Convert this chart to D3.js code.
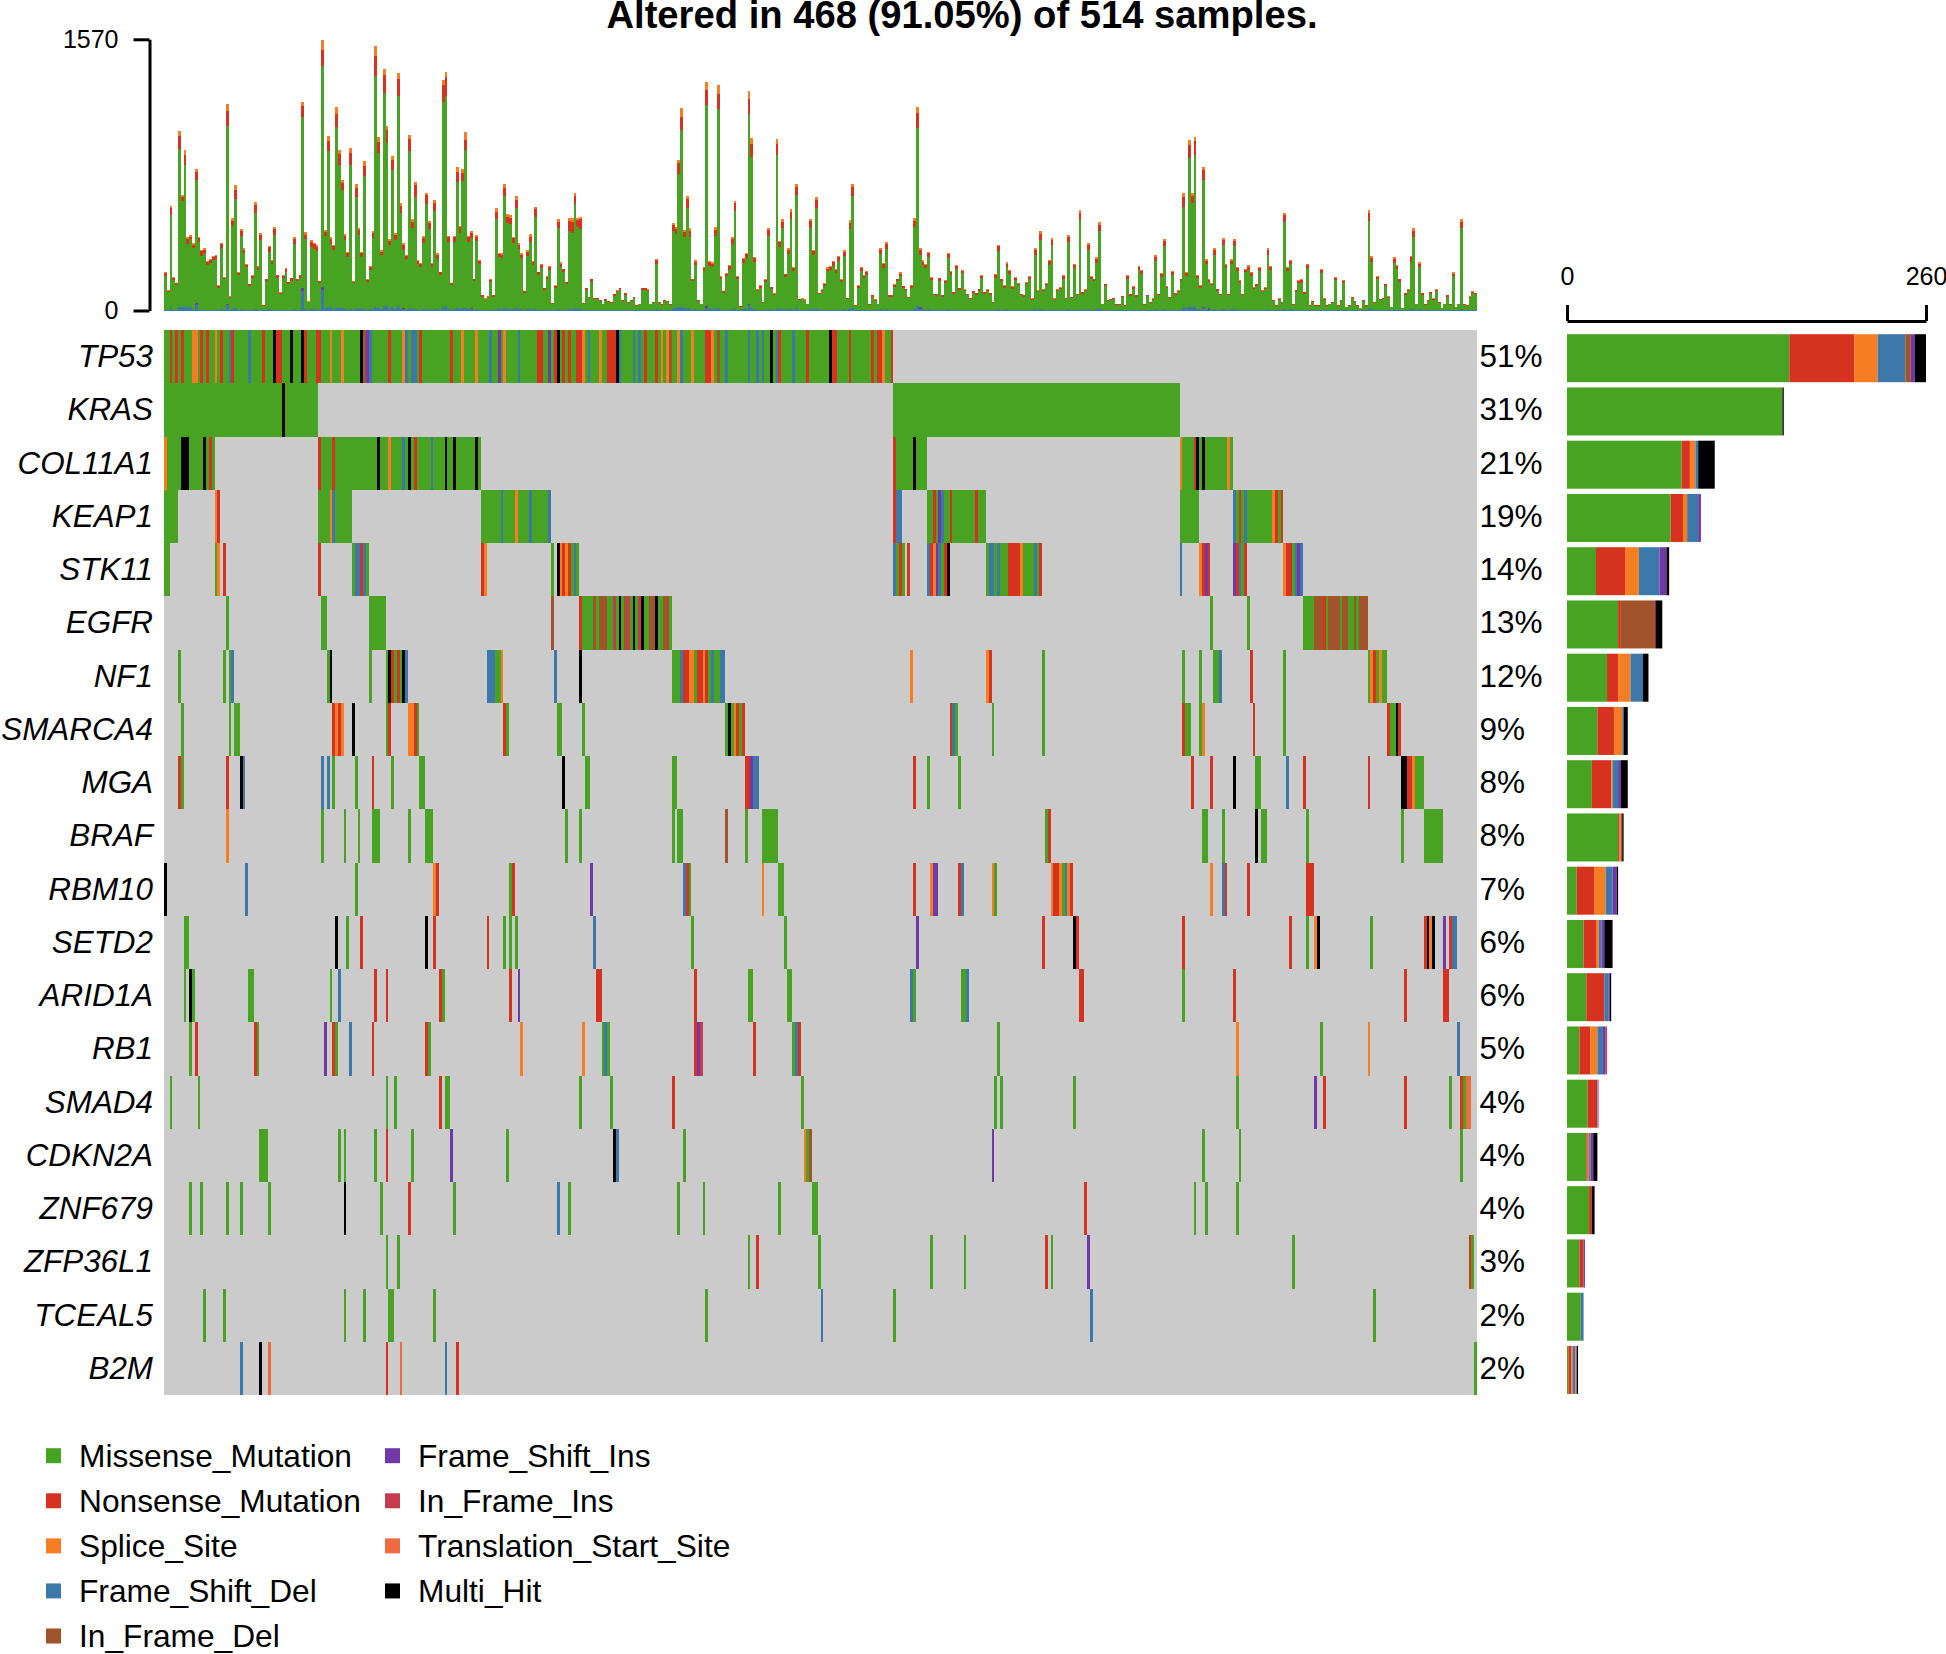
<!DOCTYPE html>
<html>
<head>
<meta charset="utf-8">
<script src="https://cdn.jsdelivr.net/npm/d3@7"></script>
<style>
body { margin: 0; background: #fff; }
text { font-family: "Liberation Sans", Arial, sans-serif; fill: #000; }
.axis path, .axis line { stroke: #000; stroke-width: 3px; fill: none; }
.axis text { font-size: 25px; }
</style>
</head>
<body>
<script>
// mutation classes and colours
const mutCodes = ['M', 'N', 'S', 'D', 'B', 'I', 'P', 'T', 'H'];
const mutNames = ['Missense_Mutation', 'Nonsense_Mutation', 'Splice_Site', 'Frame_Shift_Del', 'In_Frame_Del',
    'Frame_Shift_Ins', 'In_Frame_Ins', 'Translation_Start_Site', 'Multi_Hit'];
const mutColors = ['#48a322', '#d53320', '#f67d22', '#3c78aa', '#a1542c', '#7138a8', '#c63c4f', '#ee6b42', '#000000'];

const genes = ['TP53', 'KRAS', 'COL11A1', 'KEAP1', 'STK11', 'EGFR', 'NF1', 'SMARCA4', 'MGA', 'BRAF',
    'RBM10', 'SETD2', 'ARID1A', 'RB1', 'SMAD4', 'CDKN2A', 'ZNF679', 'ZFP36L1', 'TCEAL5', 'B2M'];
const genePct = ['51%', '31%', '21%', '19%', '14%', '13%', '12%', '9%', '8%', '8%',
    '7%', '6%', '6%', '5%', '4%', '4%', '4%', '3%', '2%', '2%'];

// samples drawn (only the altered ones)
const nSamples = 468;

// counts per gene for the side bar, one array per mutation class
const sideM = [161, 156, 83, 75, 21, 37, 29, 22, 18, 37, 7, 12, 14, 9, 15, 14, 16, 9, 10, 1];
const sideN = [47, 0, 6, 9, 21, 2, 8, 12, 14, 1, 13, 9, 13, 8, 6, 1, 2, 3, 0, 2];
const sideS = [17, 0, 4, 3, 10, 0, 9, 6, 1, 1, 8, 2, 0, 5, 0, 1, 0, 0, 0, 1];
const sideD = [20, 0, 2, 8, 15, 0, 9, 1, 4, 0, 5, 2, 3, 4, 0, 1, 0, 0, 2, 2];
const sideB = [4, 0, 0, 0, 0, 24, 0, 0, 0, 1, 0, 0, 0, 0, 0, 0, 0, 0, 0, 0];
const sideI = [3, 0, 0, 2, 5, 0, 0, 0, 2, 0, 3, 2, 1, 2, 1, 2, 0, 1, 0, 0];
const sideP = [0, 0, 0, 0, 0, 1, 0, 0, 0, 0, 0, 0, 0, 1, 0, 0, 0, 0, 0, 0];
const sideT = [0, 0, 0, 0, 0, 0, 0, 0, 0, 0, 0, 0, 0, 0, 1, 0, 0, 0, 0, 1];
const sideH = [8, 1, 12, 0, 2, 5, 4, 3, 5, 1, 1, 6, 1, 0, 0, 3, 2, 0, 0, 1];

// mutation burden per sample
const tmbTotal = [224,118,606,195,160,1040,668,929,423,436,388,822,427,350,360,286,300,315,
320,147,392,195,1193,83,533,724,222,473,359,272,156,205,631,257,446,31,185,
373,292,481,208,106,205,247,166,191,423,185,208,1208,452,54,407,392,378,
172,1566,465,1010,423,382,1180,929,755,440,340,938,170,730,477,340,863,180,
257,459,1531,1002,349,1396,1068,413,894,446,1373,620,388,324,1017,527,745,295,276,
430,683,519,276,639,330,224,1334,1378,434,162,432,828,492,817,1031,432,459,
185,438,292,89,70,83,180,89,591,334,330,730,556,552,427,662,388,330,
114,349,440,288,598,224,272,133,199,259,44,145,527,278,243,166,533,533,
681,537,542,44,133,79,185,73,73,60,40,66,54,50,95,118,133,60,
102,50,60,79,31,40,133,133,122,40,50,301,50,37,62,55,37,508,
485,870,1170,465,664,475,185,291,60,40,253,1322,288,278,481,1303,199,114,218,
262,423,635,200,25,305,334,1270,996,311,122,145,50,180,479,137,100,990,
403,527,214,359,585,253,735,66,70,64,40,531,353,658,102,122,160,249,259,
288,241,315,180,349,75,523,735,31,147,253,205,230,37,89,64,40,363,
276,398,89,89,151,185,220,143,125,79,147,533,1176,359,291,272,340,195,
98,98,191,89,176,334,230,108,262,133,237,122,98,73,114,102,127,208,
108,122,102,50,210,382,185,147,278,233,140,195,160,98,89,166,199,70,
359,118,459,122,160,295,421,70,122,137,205,75,436,79,268,98,581,108,
122,388,199,185,307,510,40,156,60,66,73,37,37,85,31,205,95,141,
89,259,234,37,91,50,70,320,98,218,413,141,79,230,102,118,185,678,
224,986,681,1006,205,147,832,297,180,160,359,127,98,421,272,98,297,
413,253,176,98,243,262,224,137,156,253,118,137,359,259,60,31,70,50,566,
253,295,37,120,176,180,108,272,31,56,30,30,243,70,31,40,50,195,31,
60,176,21,31,79,56,31,12,60,30,581,315,50,200,66,75,156,83,
21,307,266,185,15,102,122,317,475,40,278,102,37,60,108,70,122,50,
15,40,91,37,220,21,40,527,37,31,83,112,104];

const tmbNonsense = [18,8,38,14,10,75,22,62,30,16,20,48,22,24,22,18,20,18,
16,10,24,10,90,6,32,52,14,30,20,16,10,14,44,16,28,3,10,
26,18,34,14,8,14,16,12,14,30,12,14,62,26,4,30,28,26,
12,90,26,58,28,22,80,60,42,26,22,70,10,52,32,22,58,10,
16,30,118,64,22,105,74,28,60,30,100,42,28,20,70,38,66,20,18,
28,48,36,18,48,22,16,95,110,28,10,30,60,34,50,60,30,30,
12,28,18,6,4,6,12,6,42,20,20,50,40,40,30,48,26,22,
8,24,30,20,44,14,18,10,14,16,3,10,38,18,16,12,58,66,
50,40,55,3,10,6,14,5,5,5,3,5,4,4,8,8,10,5,
8,4,5,6,3,3,10,10,8,3,4,24,4,3,5,4,3,34,
28,60,78,30,50,36,12,20,5,3,18,90,20,18,36,88,14,8,16,
20,30,44,14,2,22,22,88,72,22,8,10,4,12,34,10,6,66,
28,38,14,24,40,16,48,4,4,4,3,40,26,46,7,8,12,16,18,
20,16,22,12,24,5,36,52,2,10,18,14,16,3,6,5,3,26,
20,30,6,6,10,12,16,10,8,6,10,36,86,26,20,18,24,14,
7,7,14,6,12,24,16,7,18,9,16,8,7,5,8,7,9,14,
8,8,7,4,14,28,12,10,20,16,10,14,11,7,6,11,14,5,
26,8,34,8,11,22,30,5,8,10,14,5,30,6,18,7,42,8,
8,28,14,12,22,36,3,11,4,5,5,3,3,6,2,14,7,10,
6,18,16,3,7,4,5,24,7,16,30,10,6,16,7,8,12,58,
16,75,40,78,14,10,56,20,12,11,26,9,7,30,18,7,20,
30,18,12,7,17,18,16,9,11,18,8,9,26,18,4,2,5,4,40,
18,20,3,8,12,14,8,20,2,4,2,2,18,5,2,3,4,14,2,
4,12,2,2,6,4,2,1,4,2,44,26,4,14,5,5,11,6,
2,22,18,13,1,7,9,26,38,3,20,7,3,4,8,5,9,4,
1,3,7,3,16,2,3,38,3,2,6,9,8];

const tmbSplice = [8,4,14,4,3,30,12,26,10,8,6,20,8,8,8,6,6,6,
6,4,8,4,36,2,12,24,4,10,6,6,3,4,20,5,10,1,4,
8,6,8,5,3,4,6,3,4,8,3,5,26,14,2,8,8,8,
3,58,10,28,10,8,40,24,18,8,8,24,3,20,10,8,24,3,
6,12,58,24,8,32,24,8,22,8,32,14,8,6,22,12,20,6,6,
10,16,12,6,16,8,4,30,26,8,3,8,24,10,20,44,8,12,
4,10,6,2,2,2,4,2,18,6,6,18,12,14,8,20,8,6,
2,8,12,6,12,4,6,3,4,6,1,3,14,6,5,3,16,20,
16,12,14,1,3,2,4,2,2,1,1,2,1,1,2,3,3,1,
2,1,1,2,1,1,3,3,3,1,1,8,1,1,1,1,1,12,
14,18,48,8,18,12,5,8,1,1,6,44,8,6,14,50,4,2,5,
6,10,14,5,1,6,8,44,34,8,3,3,1,4,14,3,2,26,
8,12,5,8,14,6,18,2,2,1,1,14,8,18,2,3,4,6,6,
8,6,8,5,10,2,14,20,1,4,8,5,6,1,2,2,1,10,
8,12,2,2,4,5,6,4,3,2,4,14,34,10,8,6,8,4,
3,3,5,2,4,8,6,3,6,3,6,3,3,2,3,3,3,6,
3,3,3,1,5,10,4,4,8,6,3,5,4,3,2,4,5,2,
9,3,14,3,4,8,10,2,3,4,6,2,10,2,6,3,16,3,
3,10,5,4,8,16,1,4,2,2,2,1,1,2,1,6,2,4,
2,6,6,1,2,1,2,8,2,6,12,3,2,6,3,3,4,20,
6,30,16,26,5,4,20,8,4,4,10,3,2,12,7,3,8,
10,6,4,2,6,8,6,4,4,6,3,4,10,7,2,1,2,1,16,
6,8,1,3,4,4,3,8,1,1,1,1,6,2,1,1,1,5,1,
1,5,1,1,2,1,1,1,2,1,16,10,1,5,2,2,4,2,
1,8,6,5,1,3,3,8,12,1,8,3,1,2,3,2,3,1,
1,1,3,1,6,1,1,14,1,1,2,3,3];

const tmbFrameDel = [3,3,18,2,2,22,20,22,20,18,3,30,4,3,2,2,2,2,
4,2,6,2,30,3,8,14,3,8,3,2,2,3,6,3,4,1,2,
6,3,4,3,2,4,5,2,3,6,2,5,115,6,2,8,6,5,
4,118,12,22,18,8,14,16,12,6,4,10,3,12,8,6,8,3,
8,6,18,14,6,26,24,8,22,6,24,10,6,5,16,8,10,4,4,
8,10,8,4,10,6,3,20,28,8,3,6,14,10,14,16,8,8,
4,8,4,2,1,2,3,1,10,6,4,12,10,10,8,12,6,6,
2,6,8,4,8,3,4,2,3,4,1,2,10,5,4,3,8,10,
12,8,8,1,2,1,3,1,1,1,1,1,1,1,2,2,2,1,
2,1,1,1,1,1,2,2,2,1,1,6,1,1,1,1,1,14,
16,18,20,14,12,10,4,6,1,1,4,16,6,6,8,16,4,2,4,
5,8,10,5,1,6,6,30,16,6,2,3,1,3,8,3,2,16,
8,8,4,6,10,5,12,1,2,1,1,10,6,10,2,2,3,5,5,
5,4,5,3,6,2,8,16,1,3,5,3,4,1,2,1,1,6,
5,6,2,2,3,3,4,2,2,2,3,8,24,10,6,5,6,3,
2,2,3,2,3,6,4,2,5,2,4,3,2,2,2,2,2,4,
2,2,2,1,3,8,4,3,6,4,2,4,3,2,2,3,4,2,
6,2,8,2,3,5,8,2,3,3,4,2,8,2,5,2,10,2,
3,8,4,3,6,14,1,3,1,2,2,1,1,2,1,4,2,3,
2,5,4,1,2,1,2,6,2,4,8,3,2,4,2,2,4,22,
16,22,18,26,6,3,14,6,4,3,8,3,2,8,5,2,6,
8,5,4,2,5,5,4,3,3,5,2,3,8,5,2,1,2,1,10,
5,6,1,2,4,4,2,5,1,2,1,1,5,2,1,1,2,4,1,
2,4,1,1,2,2,1,1,2,1,16,8,2,4,2,2,3,2,
1,6,5,4,1,2,3,8,10,1,6,2,1,2,3,2,3,2,
1,1,2,1,5,1,1,10,1,1,2,3,3];

// the few samples where purple shows above the blue, [sample, count]
const tmbFrameIns = [[49, 18], [56, 20], [11, 12], [22, 8], [85, 8], [109, 6], [193, 8], [208, 10], [269, 10], [370, 8], [372, 10]];

// altered cells, [first sample, class, run length]. later entries overwrite earlier ones
const cellsTP53 = [[0,'M',260],[2,'N'],[4,'N'],[6,'N'],[10,'S',2],[13,'N'],[15,'N'],[18,'S'],[20,'N'],[23,'D'],[24,'N'],[30,'D'],[35,'N'],[39,'H'],[40,'N',2],[45,'H'],[49,'H'],[50,'N'],[54,'N',2],[59,'S'],[63,'S'],[70,'H'],[71,'B'],[72,'I'],[73,'D'],[80,'N'],[85,'S'],[86,'D'],[88,'D',2],[91,'N'],[102,'N'],[106,'S'],[111,'S'],[116,'D'],[119,'I'],[121,'S'],[126,'D'],[133,'N',2],[137,'I'],[139,'N'],[140,'H'],[142,'N'],[144,'N'],[147,'N',2],[149,'S'],[151,'D'],[155,'S'],[158,'N',3],[161,'H'],[162,'D'],[167,'D'],[169,'D'],[171,'N'],[175,'N'],[177,'S'],[179,'S'],[180,'B'],[183,'S'],[184,'D'],[188,'S'],[193,'N',2],[195,'S'],[197,'B'],[200,'D'],[208,'D'],[211,'D'],[213,'D'],[216,'H'],[218,'D'],[219,'N'],[224,'D'],[229,'N'],[237,'H'],[238,'N',2],[244,'N'],[252,'N'],[254,'N',2],[256,'S'],[259,'N']];
const cellsKRAS = [[0,'M',55],[42,'H'],[260,'M',102]];
const cellsCOL11A1 = [[0,'M',18],[0,'S'],[6,'H',3],[14,'H'],[16,'N'],[55,'M',58],[55,'N'],[60,'N'],[76,'H'],[80,'S'],[85,'D'],[87,'H'],[89,'N'],[95,'D'],[100,'H'],[103,'H'],[111,'H'],[260,'M',12],[260,'N'],[267,'H'],[362,'M',19],[362,'S'],[367,'N'],[368,'H'],[370,'H'],[379,'S']];
const cellsKEAP1 = [[0,'M',5],[18,'S'],[19,'N'],[55,'M',12],[59,'S'],[60,'D'],[113,'M',25],[120,'D'],[125,'S'],[130,'D'],[137,'D'],[260,'N'],[261,'D',2],[272,'M',21],[274,'N'],[276,'I'],[277,'D'],[280,'N'],[289,'N'],[362,'M',7],[381,'M',18],[381,'D'],[383,'N'],[385,'D'],[395,'S'],[396,'N'],[398,'N']];
const cellsSTK11 = [[0,'M',2],[18,'M'],[19,'S'],[21,'N'],[55,'N'],[67,'M'],[68,'D',2],[70,'N'],[71,'D'],[72,'M'],[113,'N'],[114,'S'],[138,'M'],[140,'H'],[141,'S'],[142,'N'],[143,'S'],[144,'N'],[145,'M'],[146,'D'],[147,'M'],[260,'D'],[261,'M'],[262,'N'],[263,'M'],[265,'N'],[272,'D'],[273,'N'],[274,'S'],[275,'I'],[276,'D'],[277,'M'],[278,'N'],[279,'H'],[293,'M',20],[294,'D',2],[297,'D'],[301,'N',3],[304,'N'],[305,'S'],[310,'D'],[312,'N'],[362,'D'],[369,'S'],[370,'N'],[371,'I'],[372,'N'],[381,'I'],[382,'N'],[383,'D'],[384,'M'],[385,'N'],[399,'S'],[400,'N',2],[402,'M'],[403,'D'],[404,'I'],[405,'D']];
const cellsEGFR = [[22,'M'],[56,'M',2],[73,'M',6],[138,'B'],[148,'M',33],[148,'N'],[153,'B'],[155,'B',3],[160,'P'],[162,'H'],[164,'B'],[165,'P'],[167,'H'],[169,'P'],[170,'H'],[173,'B',2],[175,'H'],[178,'B',2],[373,'M'],[386,'M'],[406,'M',23],[410,'B',3],[413,'N'],[415,'B',4],[420,'B',2],[424,'B'],[426,'B',3]];
const cellsNF1 = [[5,'M'],[21,'M'],[23,'M'],[24,'D'],[58,'M'],[59,'H'],[73,'M'],[79,'M'],[80,'H'],[81,'N'],[82,'M'],[83,'N'],[84,'M'],[85,'H'],[86,'D'],[115,'D',3],[118,'M',2],[120,'S'],[139,'D'],[148,'H'],[181,'M',19],[184,'D'],[185,'N',2],[187,'S',2],[190,'N',2],[192,'S'],[193,'N'],[195,'D'],[198,'D',2],[266,'S'],[293,'S'],[294,'N'],[313,'M'],[363,'M'],[369,'M'],[374,'M',2],[376,'D'],[387,'N'],[399,'M'],[429,'M'],[430,'S'],[431,'N'],[432,'M'],[433,'S'],[434,'M',2]];
const cellsSMARCA4 = [[6,'M'],[23,'M'],[25,'M',2],[60,'N'],[61,'S'],[62,'N'],[63,'S'],[67,'H'],[79,'M'],[80,'N'],[87,'S',2],[89,'N'],[90,'M'],[121,'N'],[122,'M'],[140,'M',2],[149,'M'],[200,'M'],[201,'H'],[202,'M'],[203,'S'],[204,'N'],[205,'M'],[206,'N'],[280,'N'],[281,'D'],[282,'M'],[295,'M'],[313,'M'],[363,'N'],[364,'M',2],[369,'M'],[370,'S'],[388,'N'],[399,'M'],[436,'N'],[437,'M',2],[439,'H'],[440,'N']];
const cellsMGA = [[5,'N'],[6,'M'],[22,'N'],[27,'H'],[28,'D'],[56,'D'],[58,'D'],[60,'M'],[68,'M'],[74,'N'],[81,'M'],[91,'M',2],[142,'H'],[150,'M',2],[181,'M',2],[207,'N',2],[209,'I'],[210,'D',2],[267,'N'],[272,'M'],[283,'M'],[366,'N'],[373,'N'],[381,'H'],[389,'M',2],[400,'D'],[406,'N'],[429,'N'],[441,'H',2],[443,'N',2],[445,'S'],[446,'M',3]];
const cellsBRAF = [[22,'S'],[56,'M'],[64,'M'],[69,'M'],[74,'M',3],[87,'M'],[93,'M',3],[143,'M'],[148,'M'],[181,'M'],[183,'M',2],[200,'B'],[207,'M'],[213,'M',6],[314,'M'],[315,'N'],[370,'M',2],[377,'M'],[389,'H'],[391,'M',2],[407,'M'],[441,'M'],[449,'M',7]];
const cellsRBM10 = [[0,'H'],[29,'D'],[68,'M'],[96,'S'],[97,'N'],[123,'M'],[124,'N'],[152,'I'],[185,'D'],[186,'N'],[187,'M'],[213,'S'],[219,'M',2],[267,'N'],[273,'S'],[274,'I',2],[283,'N'],[284,'D'],[295,'S'],[296,'M'],[316,'S'],[317,'N',2],[319,'S'],[320,'M'],[321,'D'],[322,'S'],[323,'N'],[373,'S'],[377,'D'],[378,'N'],[386,'N'],[407,'N',3]];
const cellsSETD2 = [[7,'M',2],[61,'H'],[65,'M'],[70,'N'],[93,'H'],[96,'N'],[115,'N'],[121,'M'],[123,'M'],[125,'M'],[153,'D'],[188,'M'],[221,'M'],[268,'I'],[313,'N'],[324,'H'],[325,'N'],[363,'N'],[401,'N'],[407,'M'],[410,'S'],[411,'H'],[430,'M'],[449,'N'],[450,'H'],[451,'S'],[452,'H'],[456,'I'],[458,'N'],[459,'D',2]];
const cellsARID1A = [[7,'M'],[9,'H'],[10,'M'],[30,'M',2],[59,'M'],[62,'D'],[75,'N'],[79,'N'],[98,'N'],[99,'M'],[123,'N'],[126,'I'],[154,'N',2],[189,'N'],[208,'M',2],[222,'M',2],[266,'D'],[267,'M'],[284,'M',2],[286,'D'],[326,'N',2],[363,'M'],[381,'N'],[442,'N'],[456,'N',2]];
const cellsRB1 = [[9,'M'],[11,'N'],[32,'N'],[33,'M'],[57,'I'],[60,'N'],[61,'M'],[66,'D'],[74,'N'],[93,'N'],[94,'M'],[127,'S'],[149,'S'],[156,'M'],[157,'D'],[158,'M'],[189,'N'],[190,'I'],[191,'P'],[210,'N'],[224,'M'],[225,'D'],[226,'N'],[297,'M'],[382,'S'],[412,'M'],[429,'S'],[461,'D']];
const cellsSMAD4 = [[2,'M'],[12,'M'],[79,'M'],[82,'M'],[98,'N'],[100,'M',2],[148,'M'],[159,'M'],[181,'N'],[227,'M'],[296,'M'],[298,'M'],[324,'M'],[382,'M'],[410,'I'],[413,'N'],[442,'N'],[458,'M'],[462,'N'],[463,'M'],[464,'T',2]];
const cellsCDKN2A = [[34,'M',3],[62,'M'],[64,'M'],[75,'M'],[79,'N'],[88,'M'],[102,'I'],[122,'M'],[160,'H'],[161,'D'],[185,'M'],[228,'S'],[229,'M'],[230,'B'],[295,'I'],[370,'M'],[383,'M'],[462,'M']];
const cellsZNF679 = [[9,'M'],[13,'M'],[22,'M'],[27,'M'],[37,'M'],[64,'H'],[77,'M'],[87,'N'],[103,'M'],[140,'D'],[144,'M'],[183,'M'],[192,'M'],[219,'M'],[231,'M',2],[328,'N'],[367,'M'],[371,'M'],[382,'M']];
const cellsZFP36L1 = [[79,'M'],[83,'M'],[208,'M'],[211,'N'],[233,'M'],[273,'M'],[285,'M'],[314,'N'],[316,'M'],[329,'I'],[402,'M'],[465,'N'],[466,'M']];
const cellsTCEAL5 = [[14,'M'],[21,'M'],[64,'M'],[71,'M'],[80,'M',2],[96,'M'],[193,'M'],[234,'D'],[260,'M'],[330,'D'],[431,'M']];
const cellsB2M = [[27,'D'],[34,'H'],[37,'T'],[79,'N'],[84,'T'],[100,'D'],[104,'N'],[467,'M']];

const geneCells = [cellsTP53, cellsKRAS, cellsCOL11A1, cellsKEAP1, cellsSTK11, cellsEGFR, cellsNF1, cellsSMARCA4, cellsMGA, cellsBRAF,
    cellsRBM10, cellsSETD2, cellsARID1A, cellsRB1, cellsSMAD4, cellsCDKN2A, cellsZNF679, cellsZFP36L1, cellsTCEAL5, cellsB2M];

const w = 1946;
const h = 1654;

const svg = d3.select('body')
    .append('svg')
    .attr('width', w)
    .attr('height', h);

const color = d3.scaleOrdinal().domain(mutCodes).range(mutColors);

// shared scales
const xSample = d3.scaleBand().domain(d3.range(nSamples)).range([164, 1477]);
const yGene = d3.scaleBand().domain(genes).range([330, 1395]);

// title
svg.append('text')
    .attr('x', 962)
    .attr('y', 28)
    .attr('text-anchor', 'middle')
    .style('font-size', '38.2px')
    .style('font-weight', 'bold')
    .text('Altered in 468 (91.05%) of 514 samples.');

// top stacked bars
const yTop = d3.scaleLinear().domain([0, 1570]).range([310.5, 39.3]);
const insBySample = new Map(tmbFrameIns);
const topRows = d3.range(nSamples).map(i => {
    const ins = insBySample.get(i) || 0;
    return {
        sample: i,
        D: tmbFrameDel[i],
        I: ins,
        M: tmbTotal[i] - tmbFrameDel[i] - ins - tmbNonsense[i] - tmbSplice[i],
        N: tmbNonsense[i],
        S: tmbSplice[i]
    };
});
const topStack = d3.stack().keys(['D', 'I', 'M', 'N', 'S'])(topRows);

svg.append('g')
    .selectAll('g')
    .data(topStack)
    .enter()
    .append('g')
    .attr('fill', d => color(d.key))
    .attr('shape-rendering', 'crispEdges')
    .selectAll('rect')
    .data(d => d)
    .enter()
    .append('rect')
    .attr('x', d => xSample(d.data.sample))
    .attr('width', xSample.bandwidth())
    .attr('y', d => yTop(d[1]))
    .attr('height', d => yTop(d[0]) - yTop(d[1]));

svg.append('g')
    .attr('class', 'axis')
    .attr('transform', 'translate(149.5,0)')
    .call(d3.axisLeft(yTop).tickValues([0, 1570]).tickFormat(d3.format('d')).tickSize(16).tickSizeOuter(0).tickPadding(15))
    .selectAll('text')
    .style('font-size', '25px');

// matrix background
svg.append('rect')
    .attr('x', xSample.range()[0])
    .attr('y', yGene.range()[0])
    .attr('width', xSample.range()[1] - xSample.range()[0])
    .attr('height', yGene.range()[1] - yGene.range()[0])
    .attr('fill', '#cbcbcb');

// one rect per altered sample, runs are expanded first
genes.forEach((gene, g) => {
    const bySample = new Map();
    geneCells[g].forEach(run => {
        d3.range(run[0], run[0] + (run[2] || 1)).forEach(s => bySample.set(s, run[1]));
    });
    svg.append('g')
        .attr('shape-rendering', 'crispEdges')
        .selectAll('rect')
        .data(Array.from(bySample))
        .enter()
        .append('rect')
        .attr('x', d => xSample(d[0]))
        .attr('y', yGene(gene))
        .attr('width', xSample.bandwidth())
        .attr('height', yGene.bandwidth())
        .attr('fill', d => color(d[1]));
});

// gene names and percentages
svg.append('g')
    .selectAll('text')
    .data(genes)
    .enter()
    .append('text')
    .attr('x', 153)
    .attr('y', d => yGene(d) + yGene.bandwidth() / 2 + 10.5)
    .attr('text-anchor', 'end')
    .style('font-size', '31.4px')
    .style('font-style', 'italic')
    .text(d => d);

svg.append('g')
    .selectAll('text')
    .data(genes)
    .enter()
    .append('text')
    .attr('x', 1479.5)
    .attr('y', d => yGene(d) + yGene.bandwidth() / 2 + 10.5)
    .style('font-size', '31.5px')
    .text((d, i) => genePct[i]);

// right hand bars
const xSide = d3.scaleLinear().domain([0, 260]).range([1567, 1926]);
const sideRows = genes.map((gene, i) => ({
    gene: gene,
    M: sideM[i], N: sideN[i], S: sideS[i], D: sideD[i], B: sideB[i],
    I: sideI[i], P: sideP[i], T: sideT[i], H: sideH[i]
}));
const sideStack = d3.stack().keys(mutCodes)(sideRows);

svg.append('g')
    .selectAll('g')
    .data(sideStack)
    .enter()
    .append('g')
    .attr('fill', d => color(d.key))
    .selectAll('rect')
    .data(d => d)
    .enter()
    .append('rect')
    .attr('x', d => xSide(d[0]))
    .attr('width', d => xSide(d[1]) - xSide(d[0]))
    .attr('y', d => yGene(d.data.gene) + 4.2)
    .attr('height', 48);

svg.append('g')
    .attr('class', 'axis')
    .attr('transform', 'translate(0,321)')
    .call(d3.axisTop(xSide).tickValues([0, 260]).tickSize(16).tickSizeOuter(0).tickPadding(20))
    .selectAll('text')
    .style('font-size', '25px');

// legend, 5 rows in the first column
const legendX = d3.scalePoint().domain([0, 1]).range([46, 385]);
const legendY = d3.scalePoint().domain(d3.range(5)).range([1455.7, 1636]);
const legendItems = mutNames.map((name, i) => ({ name: name, code: mutCodes[i], col: i < 5 ? 0 : 1, row: i < 5 ? i : i - 5 }));

const legend = svg.append('g')
    .selectAll('g')
    .data(legendItems)
    .enter()
    .append('g')
    .attr('transform', d => `translate(${legendX(d.col)},${legendY(d.row)})`);

legend.append('rect')
    .attr('x', 0)
    .attr('y', -7.5)
    .attr('width', 15)
    .attr('height', 15)
    .attr('fill', d => color(d.code));

legend.append('text')
    .attr('x', 33)
    .attr('y', 11)
    .style('font-size', '31.7px')
    .text(d => d.name);
</script>
</body>
</html>
